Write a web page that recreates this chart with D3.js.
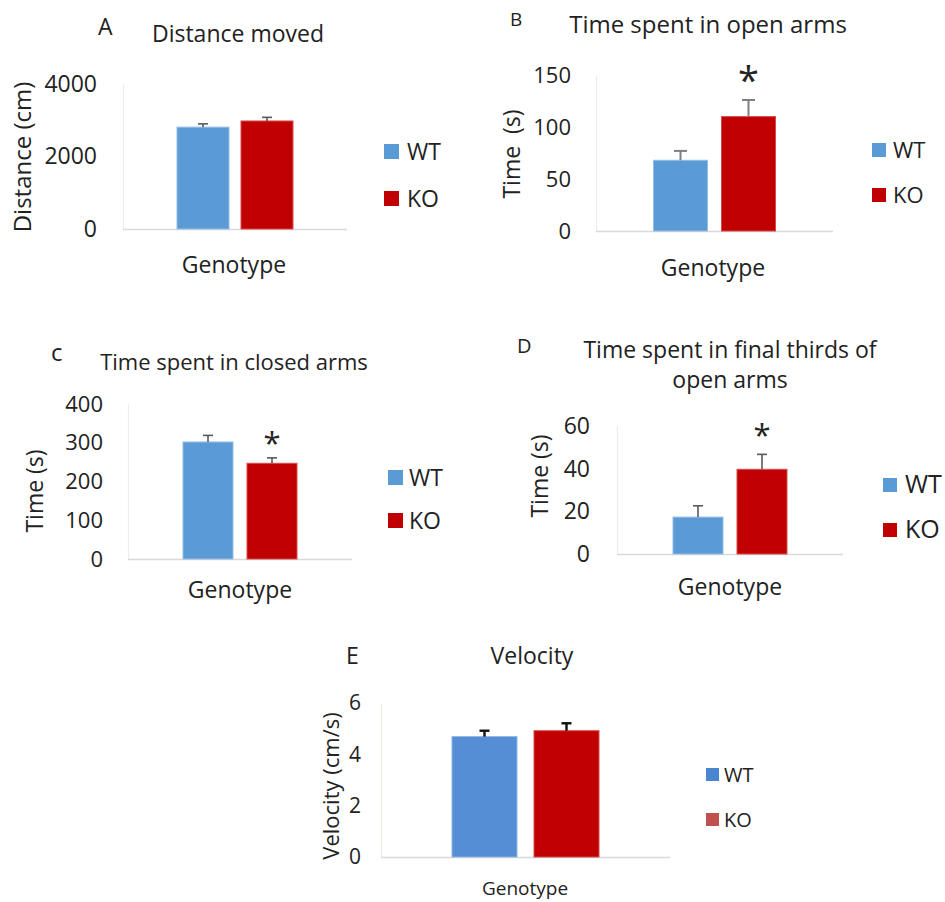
<!DOCTYPE html>
<html>
<head>
<meta charset="utf-8">
<script src="https://cdn.jsdelivr.net/npm/d3@7/dist/d3.min.js"></script>
<style>
  html, body { margin: 0; padding: 0; background: #ffffff; }
  svg { display: block; }
  text { white-space: pre; }
</style>
</head>
<body>
<svg id="fig" width="945" height="902"></svg>
<script>
// Elevated plus maze / open field measures, mean ± SEM per genotype
const groups = ["WT", "KO"];

const distanceMeans = [2810, 2980];
const distanceErrors = [90, 100];
const distanceTicks = [0, 2000, 4000];
const distanceSig = [false, false];

const openArmMeans = [68, 110];
const openArmErrors = [9, 16];
const openArmTicks = [0, 50, 100, 150];
const openArmSig = [false, true];

const closedArmMeans = [302, 247];
const closedArmErrors = [17, 14];
const closedArmTicks = [0, 100, 200, 300, 400];
const closedArmSig = [false, true];

const finalThirdMeans = [17.3, 39.7];
const finalThirdErrors = [5.3, 7];
const finalThirdTicks = [0, 20, 40, 60];
const finalThirdSig = [false, true];

const velocityMeans = [4.69, 4.92];
const velocityErrors = [0.23, 0.29];
const velocityTicks = [0, 2, 4, 6];
const velocitySig = [false, false];

const FONT = "'Open Sans', 'DejaVu Sans', sans-serif";
const INK = "#222222";

const svg = d3.select("#fig");
svg.append("rect").attr("width", 945).attr("height", 902).attr("fill", "#ffffff");

// Layout and styling for each panel
const panels = [
  {
    letter: "A", letterX: 98, letterY: 35, letterSize: 23,
    title: ["Distance moved"], titleX: 238, titleY: [42], titleSize: 23,
    yLabel: "Distance (cm)", yLabelX: 31, yLabelY: 157, yLabelSize: 24,
    xLabelX: 234, xLabelY: 273, xLabelSize: 23,
    means: distanceMeans, errors: distanceErrors, ticks: distanceTicks, sig: distanceSig,
    x0: 123, x1: 347, y0: 229, yTop: 84, cx: 235, bw: 52, gap: 12,
    tickPad: 26, tickSize: 23,
    colors: ["#5B9BD5", "#C00000"], edges: ["#93BEE6", "#D84A4A"],
    legColors: ["#5B9BD5", "#C00000"],
    errColor: "#595959", errWidth: 1.6, capW: 10,
    yAxisColor: "#EDEDED", xAxisColor: "#D9D9D9",
    legX: 384, legTop: 144, legStep: 47, legSq: 15, legGap: 8, legSize: 23,
    starSize: 32, starOffset: 25
  },
  {
    letter: "B", letterX: 510, letterY: 26, letterSize: 19,
    title: ["Time spent in open arms"], titleX: 708, titleY: [33], titleSize: 24,
    yLabel: "Time  (s)", yLabelX: 520, yLabelY: 154, yLabelSize: 23,
    xLabelX: 713, xLabelY: 276, xLabelSize: 23,
    means: openArmMeans, errors: openArmErrors, ticks: openArmTicks, sig: openArmSig,
    x0: 596, x1: 833, y0: 231, yTop: 75, cx: 714.5, bw: 54, gap: 14,
    tickPad: 25, tickSize: 22,
    colors: ["#5B9BD5", "#C00000"], edges: ["#93BEE6", "#D84A4A"],
    legColors: ["#5B9BD5", "#C00000"],
    errColor: "#7F7F7F", errWidth: 2, capW: 13,
    yAxisColor: "#EDEDED", xAxisColor: "#D9D9D9",
    legX: 872, legTop: 143, legStep: 45, legSq: 14, legGap: 7, legSize: 22,
    starSize: 38, starOffset: 28
  },
  {
    letter: "c", letterX: 51, letterY: 361, letterSize: 24,
    title: ["Time spent in closed arms"], titleX: 234, titleY: [370], titleSize: 22,
    yLabel: "Time (s)", yLabelX: 43, yLabelY: 491, yLabelSize: 23,
    xLabelX: 240, xLabelY: 598, xLabelSize: 23,
    means: closedArmMeans, errors: closedArmErrors, ticks: closedArmTicks, sig: closedArmSig,
    x0: 128, x1: 352, y0: 559, yTop: 404, cx: 240, bw: 50, gap: 14,
    tickPad: 25, tickSize: 22,
    colors: ["#5B9BD5", "#C00000"], edges: ["#93BEE6", "#D84A4A"],
    legColors: ["#5B9BD5", "#C00000"],
    errColor: "#595959", errWidth: 1.6, capW: 10,
    yAxisColor: "#EDEDED", xAxisColor: "#D9D9D9",
    legX: 388, legTop: 470, legStep: 43, legSq: 15, legGap: 6, legSize: 23,
    starSize: 31, starOffset: 22
  },
  {
    letter: "D", letterX: 517, letterY: 353, letterSize: 20,
    title: ["Time spent in final thirds of", "open arms"], titleX: 730, titleY: [358, 388], titleSize: 23,
    yLabel: "Time (s)", yLabelX: 548, yLabelY: 476, yLabelSize: 23,
    xLabelX: 730, xLabelY: 595, xLabelSize: 23,
    means: finalThirdMeans, errors: finalThirdErrors, ticks: finalThirdTicks, sig: finalThirdSig,
    x0: 617, x1: 843, y0: 554, yTop: 426, cx: 730, bw: 50, gap: 14,
    tickPad: 27, tickSize: 23,
    colors: ["#5B9BD5", "#C00000"], edges: ["#93BEE6", "#D84A4A"],
    legColors: ["#5B9BD5", "#C00000"],
    errColor: "#595959", errWidth: 1.6, capW: 10,
    yAxisColor: "#EDEDED", xAxisColor: "#D9D9D9",
    legX: 883, legTop: 478, legStep: 45, legSq: 14, legGap: 8, legSize: 25,
    starSize: 31, starOffset: 26
  },
  {
    letter: "E", letterX: 346, letterY: 664, letterSize: 23,
    title: ["Velocity"], titleX: 532, titleY: [664], titleSize: 23,
    yLabel: "Velocity (cm/s)", yLabelX: 339, yLabelY: 786, yLabelSize: 22,
    xLabelX: 525, xLabelY: 895, xLabelSize: 19,
    means: velocityMeans, errors: velocityErrors, ticks: velocityTicks, sig: velocitySig,
    x0: 381, x1: 670, y0: 857, yTop: 703, cx: 525.5, bw: 65, gap: 17,
    tickPad: 20, tickSize: 21,
    colors: ["#558ED5", "#C00000"], edges: ["#8FB5E6", "#D84A4A"],
    legColors: ["#4A86D0", "#C0504D"],
    errColor: "#111111", errWidth: 2.4, capW: 10,
    yAxisColor: "#EEECE1", xAxisColor: "#D9D9D9",
    legX: 706, legTop: 768, legStep: 45, legSq: 13, legGap: 5, legSize: 20,
    starSize: 30, starOffset: 24
  }
];

function drawPanel(p) {
  const g = svg.append("g").attr("font-family", FONT).attr("fill", INK);

  const y = d3.scaleLinear()
    .domain([0, d3.max(p.ticks)])
    .range([p.y0, p.yTop]);

  const x = d3.scaleBand()
    .domain(groups)
    .range([p.cx - p.bw - p.gap / 2, p.cx + p.bw + p.gap / 2])
    .paddingInner(p.gap / (p.bw + p.gap))
    .paddingOuter(0);

  // panel letter and title
  g.append("text")
    .attr("x", p.letterX).attr("y", p.letterY)
    .attr("font-size", p.letterSize)
    .text(p.letter);

  g.selectAll("text.title")
    .data(p.title)
    .join("text")
    .attr("class", "title")
    .attr("x", p.titleX)
    .attr("y", (d, i) => p.titleY[i])
    .attr("text-anchor", "middle")
    .attr("font-size", p.titleSize)
    .text(d => d);

  // value axis
  const axis = g.append("g")
    .attr("transform", `translate(${p.x0},0)`)
    .call(d3.axisLeft(y)
      .tickValues(p.ticks)
      .tickSizeInner(0)
      .tickSizeOuter(0)
      .tickPadding(p.tickPad)
      .tickFormat(d3.format("d")));
  axis.attr("font-family", FONT).attr("font-size", p.tickSize);
  axis.select(".domain").attr("stroke", p.yAxisColor).attr("stroke-width", 1.3);
  axis.selectAll(".tick text").attr("fill", INK);

  // category baseline
  g.append("line")
    .attr("x1", p.x0).attr("x2", p.x1)
    .attr("y1", y(0) + 0.5).attr("y2", y(0) + 0.5)
    .attr("stroke", p.xAxisColor)
    .attr("stroke-width", 1.6);

  // bars
  g.selectAll("rect.bar")
    .data(groups)
    .join("rect")
    .attr("class", "bar")
    .attr("x", d => x(d))
    .attr("y", (d, i) => y(p.means[i]))
    .attr("width", x.bandwidth())
    .attr("height", (d, i) => y(0) - y(p.means[i]))
    .attr("fill", (d, i) => p.colors[i])
    .attr("stroke", (d, i) => p.edges[i])
    .attr("stroke-width", 1);

  // upper error bars
  groups.forEach((grp, i) => {
    const cxBar = x(grp) + x.bandwidth() / 2;
    const yMean = y(p.means[i]);
    const yErr = y(p.means[i] + p.errors[i]);
    g.append("line")
      .attr("x1", cxBar).attr("x2", cxBar)
      .attr("y1", yMean).attr("y2", yErr)
      .attr("stroke", p.errColor).attr("stroke-width", p.errWidth);
    g.append("line")
      .attr("x1", cxBar - p.capW / 2).attr("x2", cxBar + p.capW / 2)
      .attr("y1", yErr).attr("y2", yErr)
      .attr("stroke", p.errColor).attr("stroke-width", p.errWidth);
    if (p.sig[i]) {
      g.append("text")
        .attr("x", cxBar)
        .attr("y", yErr - p.starOffset + p.starSize * 0.58)
        .attr("text-anchor", "middle")
        .attr("font-size", p.starSize)
        .text("*");
    }
  });

  // axis titles
  g.append("text")
    .attr("transform", `translate(${p.yLabelX},${p.yLabelY}) rotate(-90)`)
    .attr("text-anchor", "middle")
    .attr("font-size", p.yLabelSize)
    .text(p.yLabel);

  g.append("text")
    .attr("x", p.xLabelX).attr("y", p.xLabelY)
    .attr("text-anchor", "middle")
    .attr("font-size", p.xLabelSize)
    .text("Genotype");

  // legend
  groups.forEach((grp, i) => {
    const top = p.legTop + i * p.legStep;
    g.append("rect")
      .attr("x", p.legX).attr("y", top)
      .attr("width", p.legSq).attr("height", p.legSq)
      .attr("fill", p.legColors[i]);
    g.append("text")
      .attr("x", p.legX + p.legSq + p.legGap)
      .attr("y", top + p.legSq + 1)
      .attr("font-size", p.legSize)
      .text(grp);
  });
}

panels.forEach(drawPanel);
</script>
</body>
</html>
